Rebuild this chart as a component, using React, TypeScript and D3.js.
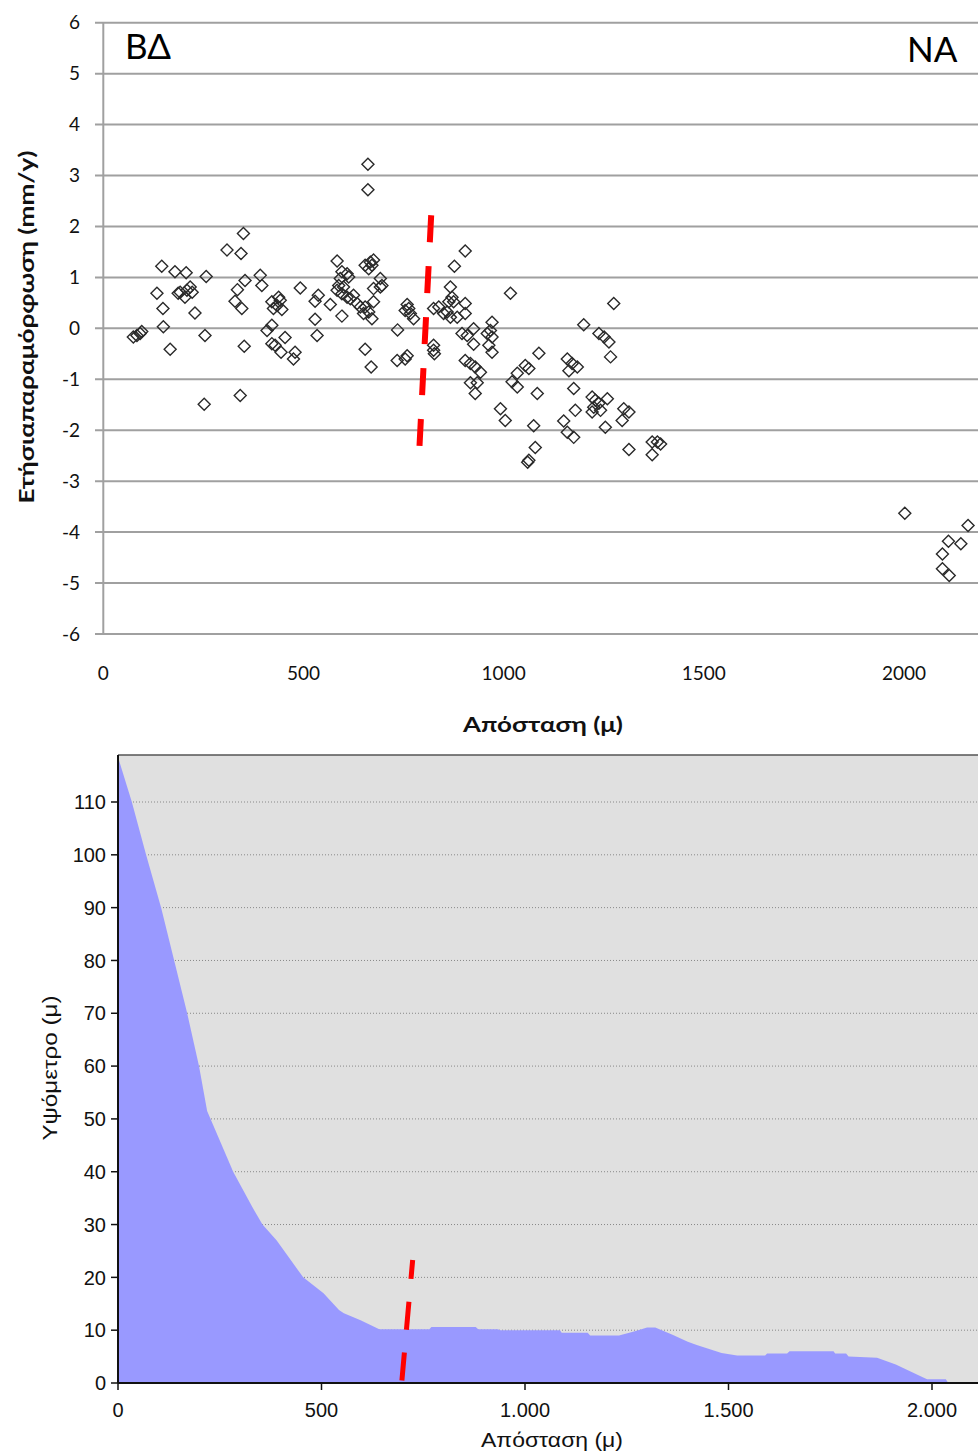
import * as d3 from "d3";

// top chart: annual deformation vs distance
const TOP_DIST = [
  75, 84, 92, 96, 350, 309, 344, 146, 179, 207, 257, 354, 392, 396, 192, 209, 222, 187, 204, 217,
  134, 335, 329, 346, 149, 229, 492, 537, 529, 529, 534, 421, 434, 442, 425, 446, 438, 421, 409, 454,
  421, 429, 444, 479, 475, 150, 254, 167, 352, 342, 252, 661, 661, 584, 654, 667, 675, 671, 663, 596,
  609, 613, 692, 592, 588, 600, 584, 596, 609, 617, 625, 634, 642, 654, 650, 663, 675, 692, 696, 675,
  567, 596, 671, 759, 763, 767, 775, 754, 735, 654, 669, 759, 754, 734, 825, 825, 827, 825, 838, 859,
  867, 867, 871, 875, 863, 850, 884, 877, 904, 904, 904, 896, 909, 904, 1017, 925, 925, 971, 967, 959,
  971, 963, 971, 917, 929, 942, 917, 934, 929, 1088, 1054, 1063, 1034, 1021, 1034, 1084, 992, 1004, 1075, 1079,
  1063, 1060, 1200, 1238, 1251, 1263, 1275, 1267, 1159, 1171, 1184, 1163, 1175, 1179, 1221, 1229, 1238, 1225, 1242, 1259,
  1221, 1150, 1159, 1175, 1254, 1300, 1313, 1296, 1313, 1371, 1384, 1392, 1371, 2002, 2160, 2111, 2142, 2096, 2096, 2113,
];
const TOP_RATE = [
  -0.17, -0.14, -0.1, -0.06, 1.86, 1.54, 1.47, 1.22, 1.11, 1.09, 1.02, 0.94, 1.04, 0.84, 0.71, 0.75, 0.71, 0.69, 0.61, 0.81,
  0.69, 0.76, 0.53, 0.39, 0.39, 0.3, 0.79, 0.65, 0.53, 0.18, -0.14, 0.52, 0.45, 0.55, 0.39, 0.37, 0.61, 0.06, -0.04, -0.18,
  -0.3, -0.33, -0.47, -0.47, -0.6, 0.03, -0.14, -0.41, -0.35, -1.32, -1.49, 3.22, 2.72, 1.32, 1.24, 1.3, 1.34, 1.24, 1.17, 1.11,
  1.07, 1.01, 0.98, 0.98, 0.84, 0.81, 0.75, 0.68, 0.61, 0.58, 0.65, 0.49, 0.42, 0.42, 0.29, 0.32, 0.52, 0.81, 0.84, 0.78,
  0.47, 0.24, 0.19, 0.47, 0.39, 0.29, 0.19, 0.35, -0.03, -0.41, -0.76, -0.54, -0.6, -0.63, -0.33, -0.43, -0.5, 0.39, 0.42, 0.32,
  0.22, 0.81, 0.61, 0.52, 0.52, 0.29, 0.22, 1.22, 1.52, 0.49, 0.29, -0.1, -0.14, -0.63, 0.69, -0.01, -0.31, 0.12, -0.04, -0.1,
  -0.17, -0.33, -0.47, -0.69, -0.76, -0.86, -1.07, -1.07, -1.28, -0.49, -0.73, -0.79, -0.88, -1.05, -1.15, -1.28, -1.58, -1.81, -1.91, -2.34,
  -2.59, -2.63, 0.07, -0.1, -0.17, -0.27, 0.49, -0.56, -0.6, -0.69, -0.76, -0.83, -1.18, -1.61, -1.35, -1.41, -1.47, -1.55, -1.61, -1.38,
  -1.64, -1.82, -2.04, -2.14, -1.94, -1.58, -1.64, -1.81, -2.38, -2.23, -2.23, -2.27, -2.48, -3.63, -3.87, -4.18, -4.23, -4.43, -4.72, -4.85,
];
const TOP_Y_TICKS = [6, 5, 4, 3, 2, 1, 0, -1, -2, -3, -4, -5, -6];
const TOP_X_TICKS = [0, 500, 1000, 1500, 2000];
const TOP_BOUNDARY_DIST = [819, 789];
const TOP_BOUNDARY_RATE = [2.22, -2.44];

// bottom chart: elevation profile
const PROFILE_DIST = [
  0, 34, 69, 106, 138, 170, 199, 219, 283, 330, 355, 390, 455, 505, 543, 555, 596, 642, 765, 770,
  879, 885, 933, 940, 1086, 1090, 1154, 1160, 1231, 1270, 1300, 1320, 1361, 1400, 1422, 1483, 1521, 1590, 1595, 1644,
  1650, 1758, 1762, 1789, 1795, 1865, 1911, 1972, 1988, 2034, 2040, 2113,
];
const PROFILE_ELEV = [
  118.5, 110, 100, 90, 80, 70, 60, 51.5, 40, 33.3, 30, 27, 20, 17, 13.8, 13.2, 11.9, 10.2, 10.2, 10.6,
  10.6, 10.2, 10.2, 10, 10, 9.5, 9.5, 9, 9, 9.8, 10.5, 10.5, 9.2, 7.8, 7.2, 5.7, 5.2, 5.2, 5.6, 5.6,
  6, 6, 5.6, 5.6, 5, 4.8, 3.5, 1.3, 0.7, 0.7, 0, 0,
];
const BOT_Y_TICKS = [0, 10, 20, 30, 40, 50, 60, 70, 80, 90, 100, 110];
const BOT_X_TICKS = [0, 500, 1000, 1500, 2000];
const BOT_X_LABELS = ["0", "500", "1.000", "1.500", "2.000"];
const BOT_BOUNDARY_DIST = [724, 697];
const BOT_BOUNDARY_ELEV = [23.3, 0];

const W = 978;
const H = 1454;
const TOP_FONT = "Lato, 'Noto Sans', 'DejaVu Sans', sans-serif";
const BOT_FONT = "'Liberation Sans', Arial, sans-serif";

export default function App() {
  const xTop = d3.scaleLinear().domain([0, 2000]).range([103.3, 904]);
  const yTop = d3.scaleLinear().domain([-6, 6]).range([634, 22.7]);
  const xBot = d3.scaleLinear().domain([0, 2000]).range([118, 932]);
  const yBot = d3.scaleLinear().domain([0, 110]).range([1383, 802]);

  const diamond = d3.symbol(d3.symbolDiamond2, 92)();
  const redTop = d3.line<number>().x((d, i) => xTop(TOP_BOUNDARY_DIST[i])).y((d) => yTop(d))(TOP_BOUNDARY_RATE);
  const redBot = d3.line<number>().x((d, i) => xBot(BOT_BOUNDARY_DIST[i])).y((d) => yBot(d))(BOT_BOUNDARY_ELEV);

  const area = d3
    .area<number>()
    .x((d, i) => xBot(PROFILE_DIST[i]))
    .y0(yBot(0))
    .y1((d) => yBot(d))(PROFILE_ELEV);

  const botTop = 755;

  return (
    <svg width={W} height={H} style={{ position: "absolute", left: 0, top: 0, background: "#fff" }}>
      {/* ---------- top scatter ---------- */}
      <g>
        {TOP_Y_TICKS.map((t) => (
          <g key={t}>
            <line x1={95} x2={W} y1={yTop(t)} y2={yTop(t)} stroke="#a0a0a0" strokeWidth={2} />
            <text x={80} y={yTop(t)} dy="0.35em" textAnchor="end" fontFamily={TOP_FONT} fontSize={19} fill="#111">
              {t}
            </text>
          </g>
        ))}
        <line x1={xTop(0)} x2={xTop(0)} y1={yTop(6)} y2={yTop(-6)} stroke="#a0a0a0" strokeWidth={2} />
        {TOP_X_TICKS.map((t) => (
          <text key={t} x={xTop(t)} y={680} textAnchor="middle" fontFamily={TOP_FONT} fontSize={19} fill="#111">
            {t}
          </text>
        ))}
        <text x={543} y={732} textAnchor="middle" fontFamily={TOP_FONT} fontSize={21} fontWeight="bold" fill="#111"
          textLength={160} lengthAdjust="spacingAndGlyphs">
          Απόσταση (μ)
        </text>
        <text transform="translate(34,327) rotate(-90)" textAnchor="middle" fontFamily={TOP_FONT} fontSize={20}
          fontWeight="bold" fill="#111" textLength={353} lengthAdjust="spacingAndGlyphs">
          Ετήσιαπαραμόρφωση (mm/y)
        </text>
        <text x={125} y={59} fontFamily={TOP_FONT} fontSize={35} fill="#000">ΒΔ</text>
        <text x={907} y={62} fontFamily={TOP_FONT} fontSize={35} fill="#000">ΝΑ</text>
        {TOP_DIST.map((d, i) => (
          <path key={i} d={diamond} transform={`translate(${xTop(d)},${yTop(TOP_RATE[i])})`}
            fill="none" stroke="#2a2a2a" strokeWidth={1.4} />
        ))}
        <path d={redTop ?? ""} stroke="#ff0000" strokeWidth={6} strokeDasharray="27,24" fill="none" />
      </g>

      {/* ---------- bottom elevation profile ---------- */}
      <g>
        <rect x={xBot(0)} y={botTop} width={W - xBot(0)} height={yBot(0) - botTop} fill="#e0e0e0" />
        <line x1={xBot(0)} x2={W} y1={botTop} y2={botTop} stroke="#555" strokeWidth={1.5} />
        {BOT_Y_TICKS.filter((t) => t > 0).map((t) => (
          <line key={t} x1={xBot(0)} x2={W} y1={yBot(t)} y2={yBot(t)} stroke="#888" strokeWidth={1} strokeDasharray="1,2" />
        ))}
        <path d={area ?? ""} fill="#9999ff" />
        <line x1={xBot(0)} x2={xBot(0)} y1={botTop} y2={yBot(0)} stroke="#111" strokeWidth={2} />
        <line x1={xBot(0)} x2={W} y1={yBot(0)} y2={yBot(0)} stroke="#111" strokeWidth={2} />
        {BOT_Y_TICKS.map((t) => (
          <g key={t}>
            <line x1={111} x2={xBot(0)} y1={yBot(t)} y2={yBot(t)} stroke="#111" strokeWidth={1.5} />
            <text x={106} y={yBot(t)} dy="0.36em" textAnchor="end" fontFamily={BOT_FONT} fontSize={20} fill="#111">
              {t}
            </text>
          </g>
        ))}
        {BOT_X_TICKS.map((t, i) => (
          <g key={t}>
            <line x1={xBot(t)} x2={xBot(t)} y1={yBot(0)} y2={yBot(0) + 7} stroke="#111" strokeWidth={1.5} />
            <text x={xBot(t)} y={1417} textAnchor="middle" fontFamily={BOT_FONT} fontSize={20} fill="#111">
              {BOT_X_LABELS[i]}
            </text>
          </g>
        ))}
        <text x={552} y={1447} textAnchor="middle" fontFamily={BOT_FONT} fontSize={21} fill="#111"
          textLength={142} lengthAdjust="spacingAndGlyphs">
          Απόσταση (μ)
        </text>
        <text transform="translate(57,1068) rotate(-90)" textAnchor="middle" fontFamily={BOT_FONT} fontSize={20}
          fill="#111" textLength={145} lengthAdjust="spacingAndGlyphs">
          Υψόμετρο (μ)
        </text>
        <path d={redBot ?? ""} stroke="#ff0000" strokeWidth={5} strokeDasharray="28,23" strokeDashoffset={9} fill="none" />
      </g>
    </svg>
  );
}
